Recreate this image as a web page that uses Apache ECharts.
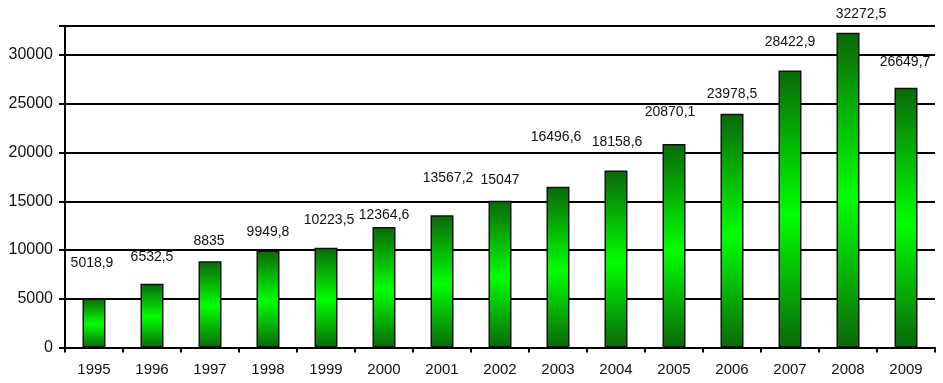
<!DOCTYPE html>
<html>
<head>
<meta charset="utf-8">
<script src="https://cdn.jsdelivr.net/npm/echarts@6/dist/echarts.min.js"></script>
<style>
  html, body { margin: 0; padding: 0; background: #fff; }
  #chart { width: 943px; height: 383px; }
</style>
</head>
<body>
<div id="chart"></div>
<script>
// ---- Data ----
const years = ['1995','1996','1997','1998','1999','2000','2001','2002','2003','2004','2005','2006','2007','2008','2009'];
const values = [5018.9, 6532.5, 8835, 9949.8, 10223.5, 12364.6, 13567.2, 15047, 16496.6, 18158.6, 20870.1, 23978.5, 28422.9, 32272.5, 26649.7];
const yTicks = [0, 5000, 10000, 15000, 20000, 25000, 30000];

// ---- Styling (label placement, as in the original Excel chart) ----
const labelGap = [35, 27, 20, 18, 28, 12, 37, 21, 50, 28, 32, 20, 28, 19, 26];
const labelDx  = [-2, 0, -1, 0, 3, 0, 6, 0, -2, 1, -4, 0, 0, 13, -1];

const barColor = {
  type: 'linear', x: 0, y: 0, x2: 0, y2: 1,
  colorStops: [
    { offset: 0, color: '#0a680a' },
    { offset: 0.52, color: '#00ff00' },
    { offset: 1, color: '#0a680a' }
  ]
};

const seriesData = values.map((v, i) => ({
  value: v,
  label: { distance: labelGap[i] - 7, offset: [labelDx[i], 0] }
}));

const chart = echarts.init(document.getElementById('chart'), null, { renderer: 'canvas' });
chart.setOption({
  animation: false,
  backgroundColor: '#ffffff',
  grid: { left: 65, right: 8, top: 25.75, bottom: 35.5, containLabel: false },
  xAxis: {
    type: 'category',
    data: years,
    boundaryGap: true,
    axisLine: { show: true, lineStyle: { color: '#000', width: 2 } },
    axisTick: { show: true, alignWithLabel: false, length: 5, lineStyle: { color: '#000', width: 2 } },
    axisLabel: { color: '#111', fontFamily: 'Liberation Sans, Arial, sans-serif', fontSize: 15, margin: 15 },
    splitLine: { show: false }
  },
  yAxis: {
    type: 'value',
    min: 0,
    max: 33000,
    interval: 5000,
    axisLine: { show: true, lineStyle: { color: '#000', width: 2 } },
    axisTick: { show: true, length: 6, lineStyle: { color: '#000', width: 2 } },
    axisLabel: {
      color: '#111', fontFamily: 'Liberation Sans, Arial, sans-serif', fontSize: 16, margin: 12,
      formatter: v => (yTicks.indexOf(v) >= 0 ? String(v) : '')
    },
    splitLine: { show: true, lineStyle: { color: '#000', width: 2 } }
  },
  series: [{
    type: 'bar',
    data: seriesData,
    barWidth: 23,
    itemStyle: { color: barColor, borderColor: '#0a140a', borderWidth: 1.5 },
    label: {
      show: true,
      position: 'top',
      color: '#111',
      fontFamily: 'Liberation Sans, Arial, sans-serif',
      fontSize: 14,
      formatter: p => String(p.value).replace('.', ',')
    }
  }]
});
</script>
</body>
</html>
